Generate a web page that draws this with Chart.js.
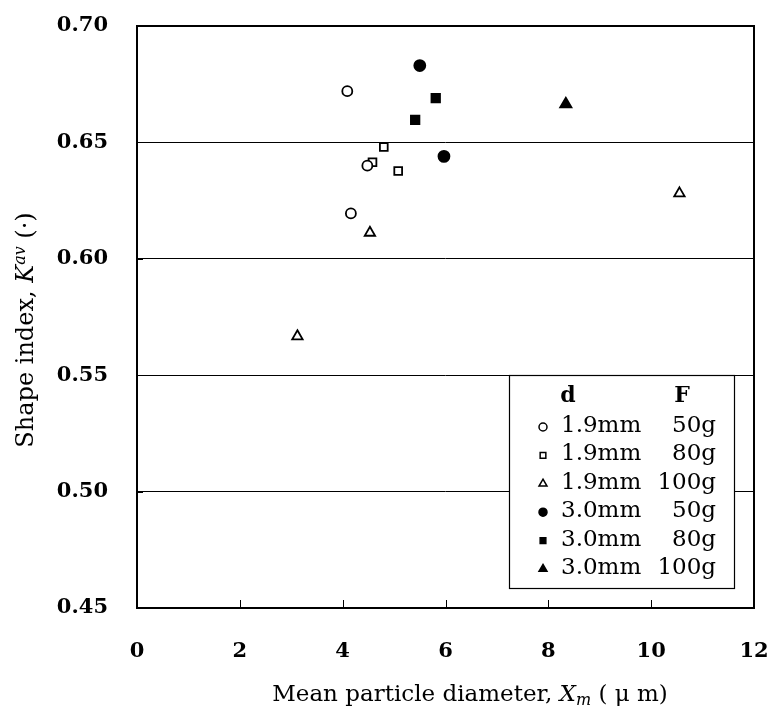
<!DOCTYPE html>
<html>
<head>
<meta charset="utf-8">
<script src="https://cdn.jsdelivr.net/npm/chart.js@4.4.1/dist/chart.umd.min.js"></script>
<style>
  html, body { margin: 0; padding: 0; background: #fff; }
  #wrap { width: 768px; height: 713px; }
</style>
</head>
<body>
<div id="wrap"><canvas id="chart" width="768" height="713"></canvas></div>
<script>
// ── Data ──────────────────────────────────────────────────────────────────────
const xTicks = [0, 2, 4, 6, 8, 10, 12];
const yTicks = [0.45, 0.50, 0.55, 0.60, 0.65, 0.70];

const legendD = ['1.9mm', '1.9mm', '1.9mm', '3.0mm', '3.0mm', '3.0mm'];
const legendF = ['50g', '80g', '100g', '50g', '80g', '100g'];

const x19_50  = [4.09, 4.48, 4.16];
const y19_50  = [0.672, 0.640, 0.6195];
const x19_80  = [4.80, 4.58, 5.08];
const y19_80  = [0.648, 0.6415, 0.6377];
const x19_100 = [3.12, 4.53, 10.55];
const y19_100 = [0.5667, 0.6112, 0.6281];
const x30_50  = [5.50, 5.97];
const y30_50  = [0.683, 0.644];
const x30_80  = [5.41, 5.81];
const y30_80  = [0.6597, 0.669];
const x30_100 = [8.34];
const y30_100 = [0.6664];

const SERIF = '"DejaVu Serif", "Liberation Serif", serif';
const pts = (xs, ys) => xs.map((x, i) => ({ x, y: ys[i] }));

const styles = [
  { pointStyle: 'circle',   fill: false, r: 5 },
  { pointStyle: 'rect',     fill: false, r: 5.5 },
  { pointStyle: 'triangle', fill: false, r: 6 },
  { pointStyle: 'circle',   fill: true,  r: 5.5 },
  { pointStyle: 'rect',     fill: true,  r: 6 },
  { pointStyle: 'triangle', fill: true,  r: 6.5 },
];
const series = [
  pts(x19_50, y19_50), pts(x19_80, y19_80), pts(x19_100, y19_100),
  pts(x30_50, y30_50), pts(x30_80, y30_80), pts(x30_100, y30_100),
];

const datasets = series.map((data, i) => ({
  label: legendD[i] + ' ' + legendF[i],
  data,
  pointStyle: styles[i].pointStyle,
  pointRadius: styles[i].r,
  pointHoverRadius: styles[i].r,
  pointBorderWidth: 1.8,
  borderColor: '#000',
  backgroundColor: styles[i].fill ? '#000' : '#fff',
  showLine: false,
}));

// ── Frame, inner ticks, titles, legend ────────────────────────────────────────
const decor = {
  id: 'decor',
  afterDatasetsDraw(chart) {
    const { ctx, chartArea: a, scales } = chart;
    ctx.save();
    ctx.strokeStyle = '#000';

    // inner tick marks
    ctx.lineWidth = 1;
    xTicks.slice(1, -1).forEach(v => {
      const px = Math.round(scales.x.getPixelForValue(v)) + 0.5;
      ctx.beginPath(); ctx.moveTo(px, a.bottom); ctx.lineTo(px, a.bottom - 8); ctx.stroke();
    });
    yTicks.slice(1, -1).forEach(v => {
      const py = Math.round(scales.y.getPixelForValue(v)) + 0.5;
      ctx.beginPath(); ctx.moveTo(a.left, py); ctx.lineTo(a.left + 6, py); ctx.stroke();
    });

    // legend box (top edge sits on the 0.55 grid line)
    const lx = 509, rx = 734;
    const ty = Math.round(scales.y.getPixelForValue(0.55)), by = 588;
    ctx.fillStyle = '#fff';
    ctx.fillRect(lx, ty, rx - lx, by - ty);
    ctx.lineWidth = 1.2;
    ctx.strokeRect(lx + 0.5, ty + 0.5, rx - lx, by - ty);

    ctx.fillStyle = '#000';
    ctx.textBaseline = 'middle';
    ctx.font = 'bold 22px ' + SERIF;
    ctx.textAlign = 'center';
    ctx.fillText('d', 568, ty + 21);
    ctx.fillText('F', 682, ty + 21);
    ctx.font = '23px ' + SERIF;
    legendD.forEach((d, i) => {
      const cy = ty + 51 + i * 28.4;
      const st = styles[i];
      ctx.lineWidth = 1.5;
      ctx.fillStyle = st.fill ? '#000' : '#fff';
      Chart.helpers.drawPoint(ctx, {
        pointStyle: st.pointStyle, radius: st.pointStyle === 'triangle' ? 4.6 : 4, borderWidth: 1.5,
      }, 543, cy + 1);
      ctx.fillStyle = '#000';
      ctx.textAlign = 'left';
      ctx.fillText(d, 561, cy);
      ctx.textAlign = 'right';
      ctx.fillText(legendF[i], 716, cy);
    });

    // plot frame
    ctx.lineWidth = 2;
    ctx.strokeRect(a.left, a.top, a.right - a.left, a.bottom - a.top);

    // axis titles
    ctx.fillStyle = '#000';
    ctx.textBaseline = 'alphabetic';
    const drawParts = (parts, cx, cy) => {
      let w = 0;
      parts.forEach(p => { ctx.font = p.f; w += ctx.measureText(p.t).width; });
      let x = cx - w / 2;
      ctx.textAlign = 'left';
      parts.forEach(p => {
        ctx.font = p.f;
        ctx.fillText(p.t, x, cy + (p.dy || 0));
        x += ctx.measureText(p.t).width;
      });
    };
    drawParts([
      { t: 'Mean particle diameter, ', f: '23px ' + SERIF },
      { t: 'X', f: 'italic 23px ' + SERIF },
      { t: 'm', f: 'italic 16px ' + SERIF, dy: 4 },
      { t: ' ( μ m)', f: '23px ' + SERIF },
    ], 470, 701);

    ctx.translate(33, 330);
    ctx.rotate(-Math.PI / 2);
    drawParts([
      { t: 'Shape index, ', f: '24px ' + SERIF },
      { t: 'K', f: 'italic 24px ' + SERIF },
      { t: 'av', f: 'italic 16px ' + SERIF, dy: -8 },
      { t: ' (·)', f: '24px ' + SERIF },
    ], 0, 0);
    ctx.restore();
  }
};

new Chart(document.getElementById('chart'), {
  type: 'scatter',
  data: { datasets },
  options: {
    responsive: false,
    animation: false,
    layout: { padding: { top: 26, right: 14, left: 0, bottom: 0 } },
    plugins: { legend: { display: false }, tooltip: { enabled: false } },
    scales: {
      x: {
        type: 'linear', min: 0, max: 12,
        afterBuildTicks: s => { s.ticks = xTicks.map(v => ({ value: v })); },
        afterFit: s => { s.height = 105; s.paddingLeft = 0; s.paddingRight = 0; },
        grid: { display: false, drawTicks: false, tickLength: 0 },
        border: { display: false },
        ticks: {
          color: '#000', padding: 31,
          font: { family: SERIF, size: 21, weight: 'bold' },
          callback: v => String(v),
        },
      },
      y: {
        type: 'linear', min: 0.45, max: 0.70,
        afterBuildTicks: s => { s.ticks = yTicks.map(v => ({ value: v })); },
        afterFit: s => { s.width = 137; s.paddingTop = 0; s.paddingBottom = 0; },
        grid: {
          drawTicks: false, tickLength: 0, lineWidth: 1,
          color: c => (c.tick.value > 0.46 && c.tick.value < 0.69) ? '#000' : 'rgba(0,0,0,0)',
        },
        border: { display: false },
        ticks: {
          color: '#000', padding: 29,
          font: { family: SERIF, size: 21, weight: 'bold' },
          callback: v => v.toFixed(2),
        },
      },
    },
  },
  plugins: [decor],
});
</script>
</body>
</html>
